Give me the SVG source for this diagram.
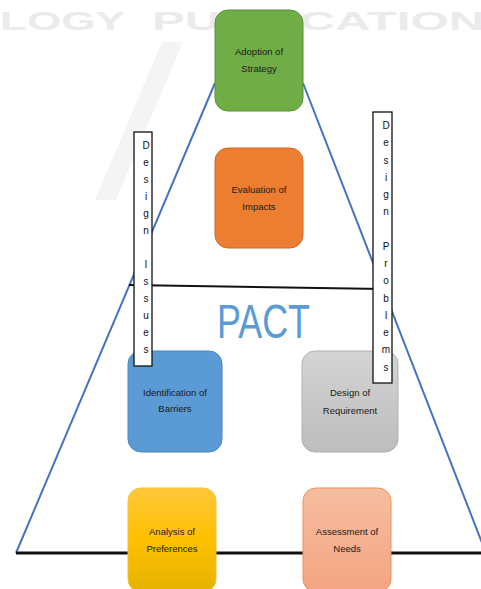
<svg xmlns="http://www.w3.org/2000/svg" width="481" height="589" viewBox="0 0 481 589">
<defs>
<linearGradient id="gGray" x1="0" y1="0" x2="0" y2="1"><stop offset="0" stop-color="#d4d4d4"/><stop offset="1" stop-color="#bdbdbd"/></linearGradient>
<linearGradient id="gYellow" x1="0" y1="0" x2="0" y2="1"><stop offset="0" stop-color="#ffc83a"/><stop offset="0.5" stop-color="#ffc000"/><stop offset="1" stop-color="#e4b200"/></linearGradient>
<linearGradient id="gSalmon" x1="0" y1="0" x2="0" y2="1"><stop offset="0" stop-color="#f6bda0"/><stop offset="1" stop-color="#f4a582"/></linearGradient>
</defs>
<style>
.lbl{font-family:"Liberation Sans",Arial,sans-serif;font-size:9.5px;fill:#1a1a1a;text-anchor:middle}
.vl{font-family:"Liberation Sans",Arial,sans-serif;font-size:10px;fill:#111;text-anchor:middle}
.vbox{fill:#fff;stroke:#111;stroke-width:1.3}
.wm{font-family:"Liberation Sans",Arial,sans-serif;font-weight:bold;font-size:26px;fill:#ebebeb}
</style>
<rect width="481" height="589" fill="#fff"/>
<g id="watermark">
<text class="wm" x="0" y="30" textLength="125" lengthAdjust="spacingAndGlyphs">LOGY</text>
<text class="wm" x="152" y="30" textLength="365" lengthAdjust="spacingAndGlyphs">PUBLICATIONS</text>
<polygon points="162,42 183,42 116,200 95,200" fill="#f4f4f4"/>
</g>
<g id="connectors">
<line x1="16" y1="553" x2="215" y2="83" stroke="#4472c4" stroke-width="2"/>
<line x1="303" y1="83" x2="486" y2="553" stroke="#4472c4" stroke-width="2"/>
<line x1="129" y1="285" x2="383" y2="289" stroke="#111" stroke-width="2"/>
<line x1="16" y1="553" x2="481" y2="553" stroke="#111" stroke-width="3"/>
</g>
<text x="217" y="338" font-family="Liberation Sans,Arial,sans-serif" font-size="48" fill="#5b9bd5" textLength="93" lengthAdjust="spacingAndGlyphs">PACT</text>
<g id="adoption">
<rect x="215" y="10" width="88" height="101" rx="13" fill="#70ad47" stroke="#5a8f38" stroke-width="1"/>
<text class="lbl" x="259" y="55">Adoption  of</text>
<text class="lbl" x="259" y="72">Strategy</text>
</g>
<g id="evaluation">
<rect x="215" y="148" width="88" height="100" rx="13" fill="#ed7d31" stroke="#d0692a" stroke-width="1"/>
<text class="lbl" x="259" y="193">Evaluation  of</text>
<text class="lbl" x="259" y="210">Impacts</text>
</g>
<g id="identification">
<rect x="128" y="351" width="94" height="101" rx="13" fill="#5b9bd5" stroke="#4a85bd" stroke-width="1"/>
<text class="lbl" x="175" y="396">Identification  of</text>
<text class="lbl" x="175" y="412">Barriers</text>
</g>
<g id="design-req">
<rect x="302" y="351" width="96" height="101" rx="13" fill="url(#gGray)" stroke="#b0b0b0" stroke-width="1"/>
<text class="lbl" x="350" y="396">Design of</text>
<text class="lbl" x="350" y="414">Requirement</text>
</g>
<g id="analysis">
<rect x="128" y="488" width="88" height="104" rx="13" fill="url(#gYellow)" stroke="#f2c12e" stroke-width="1"/>
<text class="lbl" x="172" y="535">Analysis of</text>
<text class="lbl" x="172" y="552">Preferences</text>
</g>
<g id="assessment">
<rect x="303" y="488" width="88" height="104" rx="13" fill="url(#gSalmon)" stroke="#ef8f5a" stroke-width="1"/>
<text class="lbl" x="347" y="535">Assessment of</text>
<text class="lbl" x="347" y="552">Needs</text>
</g>
<g id="design-issues">
<rect class="vbox" x="134" y="132" width="18" height="234"/>
<text class="vl" x="146" y="149">D</text>
<text class="vl" x="146" y="166">e</text>
<text class="vl" x="146" y="183">s</text>
<text class="vl" x="146" y="200">i</text>
<text class="vl" x="146" y="217">g</text>
<text class="vl" x="146" y="234">n</text>
<text class="vl" x="146" y="268">I</text>
<text class="vl" x="146" y="285">s</text>
<text class="vl" x="146" y="302">s</text>
<text class="vl" x="146" y="319">u</text>
<text class="vl" x="146" y="336">e</text>
<text class="vl" x="146" y="353">s</text>
</g>
<g id="design-problems">
<rect class="vbox" x="373" y="112" width="19" height="271"/>
<text class="vl" x="386" y="129">D</text>
<text class="vl" x="386" y="146">e</text>
<text class="vl" x="386" y="164">s</text>
<text class="vl" x="386" y="181">i</text>
<text class="vl" x="386" y="198">g</text>
<text class="vl" x="386" y="215">n</text>
<text class="vl" x="386" y="250">P</text>
<text class="vl" x="386" y="267">r</text>
<text class="vl" x="386" y="284">o</text>
<text class="vl" x="386" y="302">b</text>
<text class="vl" x="386" y="319">l</text>
<text class="vl" x="386" y="336">e</text>
<text class="vl" x="386" y="353">m</text>
<text class="vl" x="386" y="371">s</text>
</g>
</svg>
